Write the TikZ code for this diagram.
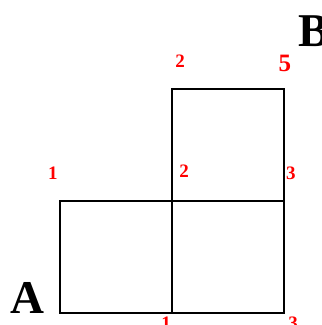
\documentclass[tikz,border=0pt]{standalone}
\usepackage{fontspec}
\setmainfont{Liberation Serif}
\usetikzlibrary{positioning}
\definecolor{labelred}{RGB}{255,0,0}
\tikzset{
  cell/.style={draw=black,line width=2pt},
  corner/.style={text=labelred,font=\bfseries\fontsize{19}{19}\selectfont,inner sep=0pt},
  bigcorner/.style={corner,font=\bfseries\fontsize{25}{25}\selectfont},
  endpt/.style={font=\bfseries\fontsize{47}{47}\selectfont,inner sep=0pt}
}

\begin{document}
\begin{tikzpicture}[x=1pt,y=-1pt]
  \useasboundingbox (0,0) rectangle (322,325);

  % grid corners
  \coordinate (p00) at (60,313);
  \coordinate (p10) at (172,313);
  \coordinate (p20) at (284,313);
  \coordinate (p01) at (60,201);
  \coordinate (p11) at (172,201);
  \coordinate (p21) at (284,201);
  \coordinate (p12) at (172,89);
  \coordinate (p22) at (284,89);

  % the three cells
  \draw[cell] (p00) rectangle (p11);
  \draw[cell] (p10) rectangle (p21);
  \draw[cell] (p11) rectangle (p22);

  % end points
  \node[endpt] (ptA) at (27,298) {A};
  \node[endpt] (ptB) at (314,31) {B};

  % path counts
  \node[corner] (c01) at (53,173) {1};
  \node[corner] (c11) at (184,171) {2};
  \node[corner] (c21) at (291,173) {3};
  \node[corner] (c12) at (180,61) {2};
  \node[bigcorner] (c22) at (285,63) {5};
  \node[corner] (c10) at (166,323) {1};
  \node[corner] (c20) at (293,323) {3};
\end{tikzpicture}
\end{document}
